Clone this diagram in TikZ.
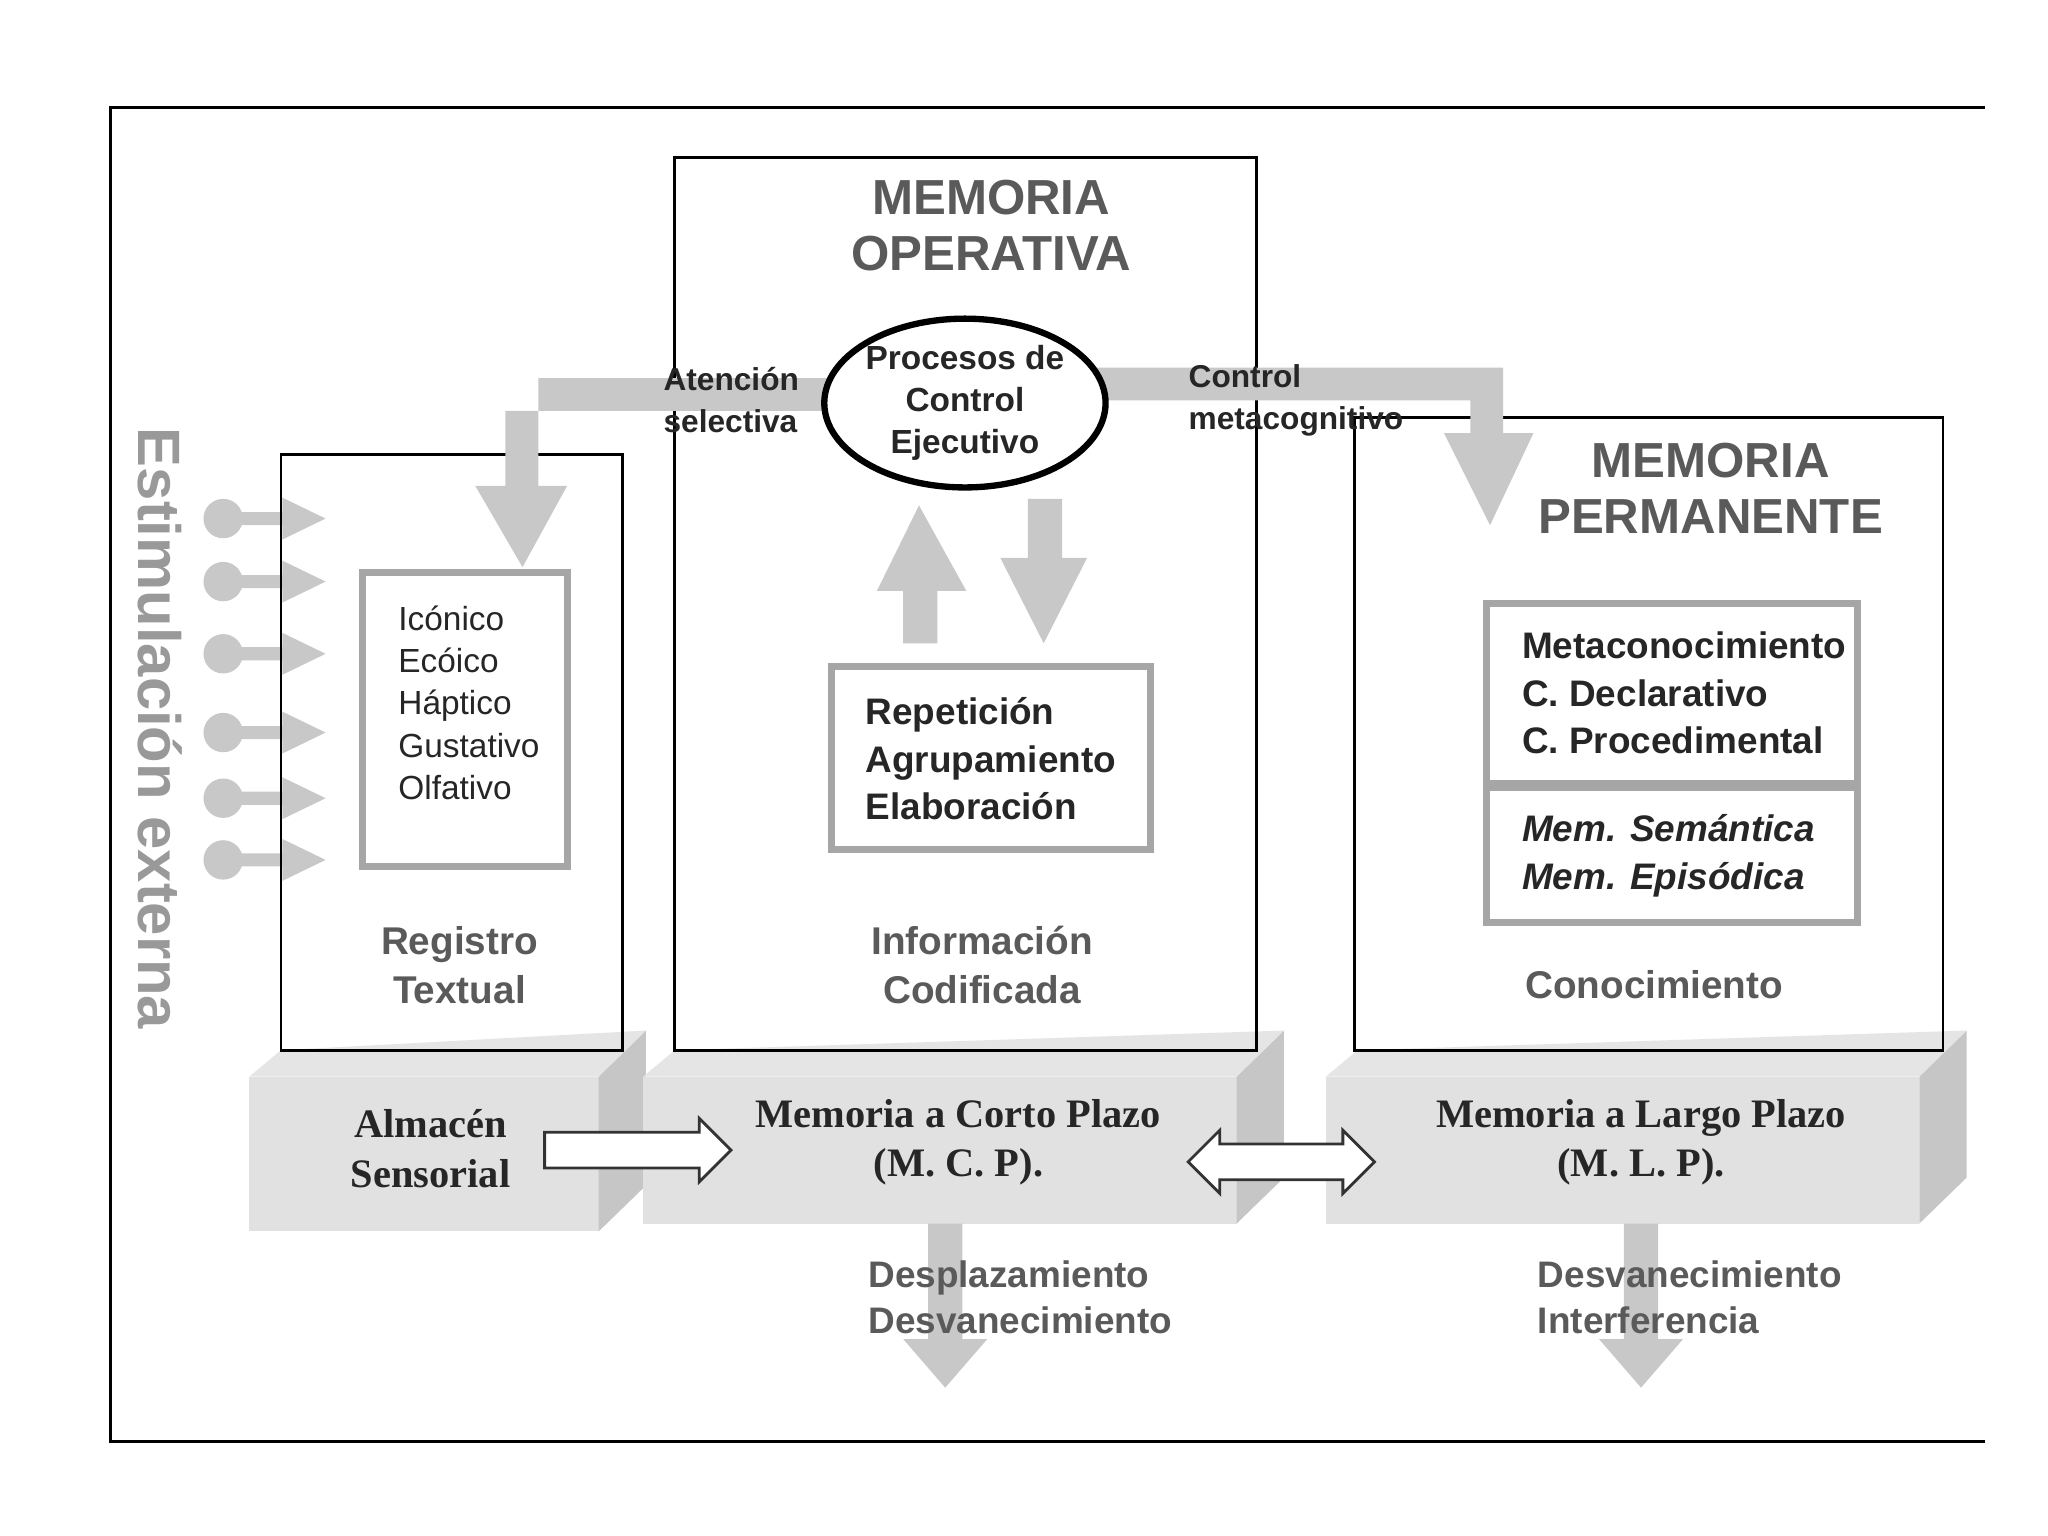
\documentclass[tikz,border=0pt]{standalone}
\usepackage{fontspec}
\setmainfont{Liberation Sans}
\newfontfamily\serifb{Liberation Serif}
\usetikzlibrary{shapes.arrows,shapes.geometric}
\definecolor{tg}{RGB}{90,90,90}
\definecolor{ag}{RGB}{200,200,200}
\definecolor{bg}{RGB}{225,225,225}
\tikzset{
 frame/.style={draw=black,line width=0.8pt},
 title/.style={font=\fontsize{14}{16}\selectfont\bfseries,text=tg,align=center},
 lab/.style={font=\fontsize{11}{14}\selectfont\bfseries,text=tg,align=center},
 body/.style={font=\fontsize{9.5}{12}\selectfont,align=left,text=black!85},
 bb/.style={font=\fontsize{10.5}{13.5}\selectfont\bfseries,align=left,text=black!85},
 small/.style={font=\fontsize{9}{12}\selectfont\bfseries,align=left,text=black!85},
 ser/.style={font=\serifb\fontsize{11.5}{14}\selectfont\bfseries,align=center,text=black!85},
 garrow/.style={fill=ag,draw=none},
 inbox/.style={draw=gray!70,line width=2pt,fill=white},
}
\begin{document}
\begin{tikzpicture}[x=0.013128cm,y=-0.013128cm]
\useasboundingbox (0,0) rectangle (1560,1170);
\fill[white] (0,0) rectangle (1560,1170);
% outer frame
\draw[frame] (1512,82) -- (84,82) -- (84,1098) -- (1512,1098);
% Estimulacion
\node[rotate=-90,font=\fontsize{17}{17}\selectfont\bfseries,text=gray!80] (est) at (122,555) {Estimulación externa};
\foreach \yy in {395,443,498,558,608,655}{
 \fill[ag] (170,\yy) circle (15);
 \fill[ag] (180,\yy-5) -- (215,\yy-5) -- (215,\yy-16) -- (248,\yy) -- (215,\yy+16) -- (215,\yy+5) -- (180,\yy+5) -- cycle;
}
% 3D bases
\foreach \xa/\xb/\yb in {190/456/938, 490/942/932, 1010/1462/932}{
 \fill[bg] (\xa,820) rectangle (\xb,\yb);
 \fill[gray!45] (\xb,820) -- (\xb+36,785) -- (\xb+36,\yb-35) -- (\xb,\yb) -- cycle;
 \fill[gray!20] (\xa,820) -- (\xa+24,800) -- (\xb+36,785) -- (\xb,820) -- cycle;
}
% boxes
\draw[frame] (214,346) rectangle (474,800);
\draw[frame] (514,120) rectangle (957,800);
\draw[frame] (1032,318) rectangle (1480,800);
% big gray arrows from ellipse
\fill[garrow] (640,288) -- (410,288) -- (410,370) -- (432,370) -- (398,432) -- (362,370) -- (385,370) -- (385,313) -- (640,313) -- cycle;
\fill[garrow] (830,280) -- (1145,280) -- (1145,330) -- (1168,330) -- (1135,400) -- (1100,330) -- (1120,330) -- (1120,305) -- (830,305) -- cycle;
% up/down arrows
\fill[garrow] (688,490) -- (688,450) -- (668,450) -- (700,385) -- (736,450) -- (714,450) -- (714,490) -- cycle;
\fill[garrow] (783,380) -- (809,380) -- (809,425) -- (828,425) -- (795,490) -- (762,425) -- (783,425) -- cycle;
% ellipse
\node[draw=black,line width=1.8pt,ellipse,minimum width=80pt,minimum height=48pt,fill=white,lab,text=black!85,font=\fontsize{9.5}{12}\selectfont\bfseries,inner sep=-3pt] (pce) at (735,307) {Procesos de\\Control\\Ejecutivo};
\node[small,anchor=west] (at) at (496,305) {Atención\\selectiva};
\node[small,anchor=west] (cm) at (896,305) {Control\\metacognitivo};
% titles
\node[title] (mo) at (755,172) {MEMORIA\\OPERATIVA};
\node[title] (mp) at (1303,372) {MEMORIA\\PERMANENTE};
% inner boxes
\draw[inbox] (276,436) rectangle (432,660);
\node[body,anchor=north west] (sens) at (294,452) {Icónico\\Ecóico\\Háptico\\Gustativo\\Olfativo};
\draw[inbox] (633,508) rectangle (876,647);
\node[bb,anchor=west] (rep) at (650,578) {Repetición\\Agrupamiento\\Elaboración};
\draw[inbox] (1132,460) rectangle (1415,597);
\draw[inbox] (1132,600) rectangle (1415,703);
\node[bb,anchor=west] (meta) at (1150,528) {Metaconocimiento\\C. Declarativo\\C. Procedimental};
\node[bb,anchor=west,font=\fontsize{10.5}{13.5}\selectfont\bfseries\itshape] (sem) at (1150,652) {Mem. Semántica\\Mem. Episódica};
% labels
\node[lab] (rt) at (350,735) {Registro\\Textual};
\node[lab] (ic) at (748,735) {Información\\Codificada};
\node[lab] (co) at (1260,750) {Conocimiento};
% base texts
\node[ser] (as) at (328,875) {Almacén\\Sensorial};
\node[ser] (mcp) at (730,870) {Memoria a Corto Plazo\\(M. C. P).};
\node[ser] (mlp) at (1250,870) {Memoria a Largo Plazo\\(M. L. P).};
% white arrows
\node[single arrow,draw=black!80,line width=0.8pt,fill=white,minimum height=53pt,minimum width=18pt,single arrow head extend=3pt,inner sep=3.5pt] (wa) at (479,876) {};
\node[double arrow,draw=black!80,line width=0.8pt,fill=white,minimum height=53pt,minimum width=18pt,double arrow head extend=3pt,inner sep=3.5pt] (da) at (976,885) {};
% down arrows
\fill[garrow] (707,932) -- (733,932) -- (733,1020) -- (752,1020) -- (720,1057) -- (688,1020) -- (707,1020) -- cycle;
\fill[garrow] (1237,932) -- (1263,932) -- (1263,1020) -- (1282,1020) -- (1250,1057) -- (1218,1020) -- (1237,1020) -- cycle;
\node[small,anchor=west,text=tg,font=\fontsize{10.5}{13}\selectfont\bfseries] (dd) at (652,988) {Desplazamiento\\Desvanecimiento};
\node[small,anchor=west,text=tg,font=\fontsize{10.5}{13}\selectfont\bfseries] (di) at (1162,988) {Desvanecimiento\\Interferencia};
\end{tikzpicture}
\end{document}
